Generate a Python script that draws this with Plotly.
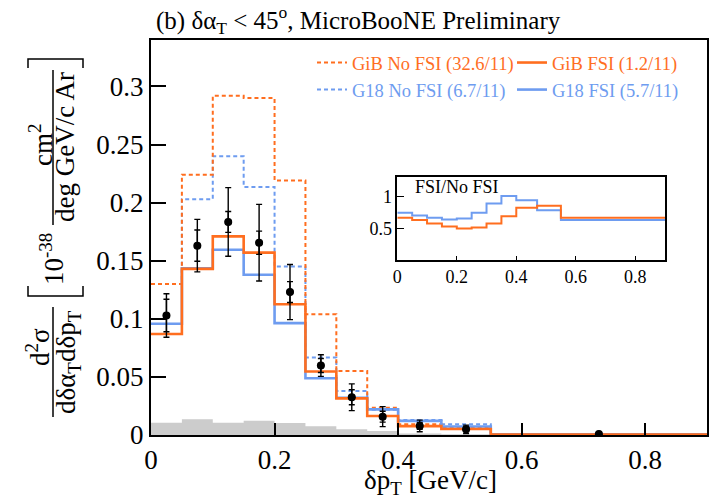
import plotly.graph_objects as go

# ---------------- data ----------------
edges = [0, 0.05, 0.1, 0.15, 0.2, 0.25, 0.3, 0.35, 0.4, 0.47, 0.55, 0.9]
gib_nofsi = [0.130, 0.224, 0.292, 0.290, 0.219, 0.104, 0.055, 0.0235, 0.0092, 0.0061, 0.0006]
gib_fsi = [0.087, 0.143, 0.171, 0.157, 0.1126, 0.0546, 0.0315, 0.0163, 0.0076, 0.0052, 0.0004]
g18_nofsi = [0.130, 0.203, 0.240, 0.2135, 0.145, 0.0667, 0.0379, 0.0218, 0.0129, 0.0092, 0.0008]
g18_fsi = [0.0957, 0.1435, 0.1595, 0.138, 0.0963, 0.0489, 0.032, 0.0221, 0.0122, 0.0073, 0.0005]
bkg = [0.0106, 0.0135, 0.0106, 0.0123, 0.0103, 0.0075, 0.0050, 0.0034, 0.0012, 0.0006, 0.0001]

data_x = [0.025, 0.075, 0.125, 0.175, 0.225, 0.275, 0.325, 0.375, 0.435, 0.51, 0.725]
data_y = [0.1029, 0.163, 0.1834, 0.1655, 0.123, 0.0598, 0.0325, 0.0158, 0.0078, 0.0049, 0.0008]
err_tot = [0.0187, 0.0226, 0.0295, 0.033, 0.0237, 0.0093, 0.0115, 0.0086, 0.005, 0.0036, 0.0004]
err_stat = [0.014, 0.0134, 0.009, 0.010, 0.009, 0.006, 0.0065, 0.0047, 0.003, 0.002, 0.0002]

ratio_gib = [0.668, 0.632, 0.579, 0.53, 0.5, 0.516, 0.579, 0.695, 0.826, 0.858, 0.668]
ratio_g18 = [0.747, 0.705, 0.668, 0.642, 0.658, 0.747, 0.895, 1.016, 0.947, 0.79, 0.632]

x_ticks = [0, 0.2, 0.4, 0.6, 0.8]
x_ticklabels = ["0", "0.2", "0.4", "0.6", "0.8"]
y_ticks = [0, 0.05, 0.1, 0.15, 0.2, 0.25, 0.3]
y_ticklabels = ["0", "0.05", "0.1", "0.15", "0.2", "0.25", "0.3"]
r_ticks = [0.5, 1]
r_ticklabels = ["0.5", "1"]

ORANGE = "#FF6E1F"
BLUE = "#6E9CF0"
FONT = "Liberation Serif"


def step(vals):
    return list(vals) + [vals[-1]]


fig = go.Figure()

# grey histogram
fig.add_trace(go.Scatter(x=edges, y=step(bkg), mode="lines", line=dict(shape="hv", width=0, color="#cccccc"),
                         fill="tozeroy", fillcolor="#cccccc", showlegend=False, hoverinfo="skip"))

fig.add_trace(go.Scatter(x=edges, y=step(g18_nofsi), mode="lines",
                         line=dict(shape="hv", width=2, color=BLUE, dash="4px,3px"),
                         name="<span style='color:%s'>G18 No FSI (6.7/11)</span>" % BLUE,
                         legend="legend", legendrank=2))
fig.add_trace(go.Scatter(x=edges, y=step(gib_nofsi), mode="lines",
                         line=dict(shape="hv", width=2, color=ORANGE, dash="4px,3px"),
                         name="<span style='color:%s'>GiB No FSI (32.6/11)</span>" % ORANGE,
                         legend="legend", legendrank=1))
fig.add_trace(go.Scatter(x=edges, y=step(g18_fsi), mode="lines",
                         line=dict(shape="hv", width=2.6, color=BLUE),
                         name="<span style='color:%s'>G18 FSI (5.7/11)</span>" % BLUE,
                         legend="legend2", legendrank=2))
fig.add_trace(go.Scatter(x=edges, y=step(gib_fsi), mode="lines",
                         line=dict(shape="hv", width=2.6, color=ORANGE),
                         name="<span style='color:%s'>GiB FSI (1.2/11)</span>" % ORANGE,
                         legend="legend2", legendrank=1))

# data with two error levels
fig.add_trace(go.Scatter(x=data_x, y=data_y, mode="markers", marker=dict(size=7, color="black"),
                         error_y=dict(type="data", array=err_tot, color="black", thickness=1.4, width=3),
                         showlegend=False))
fig.add_trace(go.Scatter(x=data_x, y=data_y, mode="markers", marker=dict(size=8, color="black"),
                         error_y=dict(type="data", array=err_stat, color="black", thickness=1.4, width=3),
                         showlegend=False))

# inset ratios
fig.add_trace(go.Scatter(x=edges, y=step(ratio_g18), mode="lines", xaxis="x2", yaxis="y2",
                         line=dict(shape="hv", width=2, color=BLUE), showlegend=False))
fig.add_trace(go.Scatter(x=edges, y=step(ratio_gib), mode="lines", xaxis="x2", yaxis="y2",
                         line=dict(shape="hv", width=2, color=ORANGE), showlegend=False))

W, H = 719, 498
L, R, T, B = 151, 12, 40, 63
pw, ph = W - L - R, H - T - B


def px(xp):
    return (xp - L) / pw


def py(yp):
    return (H - B - yp) / ph


axis_common = dict(showline=True, linecolor="black", mirror=True, showgrid=False, zeroline=False,
                   ticks="inside", tickcolor="black", automargin=False)

fig.update_layout(
    width=W, height=H,
    margin=dict(l=L, r=R, t=T, b=B, autoexpand=False),
    plot_bgcolor="white", paper_bgcolor="white",
    font=dict(family=FONT, color="black"),
    xaxis=dict(range=[0, 0.9], tickvals=x_ticks, ticktext=x_ticklabels, ticklen=12, tickwidth=1.5,
               linewidth=2, tickfont=dict(size=27, family=FONT), **axis_common),
    yaxis=dict(range=[0, 0.34], tickvals=y_ticks, ticktext=y_ticklabels, ticklen=15, tickwidth=1.5,
               linewidth=2, tickfont=dict(size=27, family=FONT), **axis_common),
    xaxis2=dict(domain=[px(397.3), px(665)], anchor="y2", range=[0, 0.9], tickvals=x_ticks,
                ticktext=x_ticklabels, ticklen=4, linewidth=1.5, tickfont=dict(size=18, family=FONT),
                **axis_common),
    yaxis2=dict(domain=[py(260), py(176.7)], anchor="x2", range=[0, 1.32], tickvals=r_ticks,
                ticktext=r_ticklabels, ticklen=7, linewidth=1.5, tickfont=dict(size=18, family=FONT),
                **axis_common),
    legend=dict(x=px(312), y=py(44), xanchor="left", yanchor="top", bgcolor="rgba(0,0,0,0)",
                font=dict(size=18.5, family=FONT), itemwidth=30, tracegroupgap=0),
    legend2=dict(x=px(512), y=py(44), xanchor="left", yanchor="top", bgcolor="rgba(0,0,0,0)",
                 font=dict(size=18.5, family=FONT), itemwidth=30, tracegroupgap=0),
    title=dict(text="(b) δα<sub>T</sub> < 45<sup>o</sup>, MicroBooNE Preliminary", x=px(156), xanchor="left",
               xref="paper", y=1 - 20 / H, yanchor="middle", yref="container",
               font=dict(size=25, family=FONT, color="black")),
)

# axis titles and inset label
ann = []
ann.append(dict(text="δp<sub>T</sub> [GeV/c]", x=px(430), y=py(482), xref="paper", yref="paper",
                showarrow=False, font=dict(size=27, family=FONT), xanchor="center", yanchor="middle"))
ann.append(dict(text="FSI/No FSI", x=0.06, y=0.88, xref="x2 domain", yref="y2 domain",
                showarrow=False, font=dict(size=18, family=FONT), xanchor="left", yanchor="middle"))
# y-axis title assembled from rotated pieces
ytitle = [
    ("d<sup>2</sup>σ", 38, 347),
    ("dδα<sub>T</sub>dδp<sub>T</sub>", 68, 362),
    ("10<sup>-38</sup>", 52, 259),
    ("cm<sup>2</sup>", 41, 145),
    ("deg GeV/c Ar", 65, 147),
]
for txt, xx, yy in ytitle:
    ann.append(dict(text=txt, x=px(xx), y=py(yy), xref="paper", yref="paper", showarrow=False,
                    textangle=-90, font=dict(size=27, family=FONT), xanchor="center", yanchor="middle"))
fig.update_layout(annotations=ann)

shapes = []
for x0, y0, x1, y1 in [(53, 307, 53, 417), (53, 70, 53, 225)]:
    shapes.append(dict(type="line", xref="paper", yref="paper", x0=px(x0), y0=py(y0), x1=px(x1), y1=py(y1),
                       line=dict(color="black", width=1.5)))
# brackets
shapes.append(dict(type="path", xref="paper", yref="paper",
                   path="M %f %f L %f %f L %f %f L %f %f" % (px(28), py(286), px(28), py(296), px(83), py(296), px(83), py(286)),
                   line=dict(color="black", width=1.5)))
shapes.append(dict(type="path", xref="paper", yref="paper",
                   path="M %f %f L %f %f L %f %f L %f %f" % (px(28), py(68), px(28), py(59), px(83), py(59), px(83), py(68)),
                   line=dict(color="black", width=1.5)))
fig.update_layout(shapes=shapes)

fig.write_html("out.html", config={"displayModeBar": False},
               post_script="document.body.style.margin='0px';")
